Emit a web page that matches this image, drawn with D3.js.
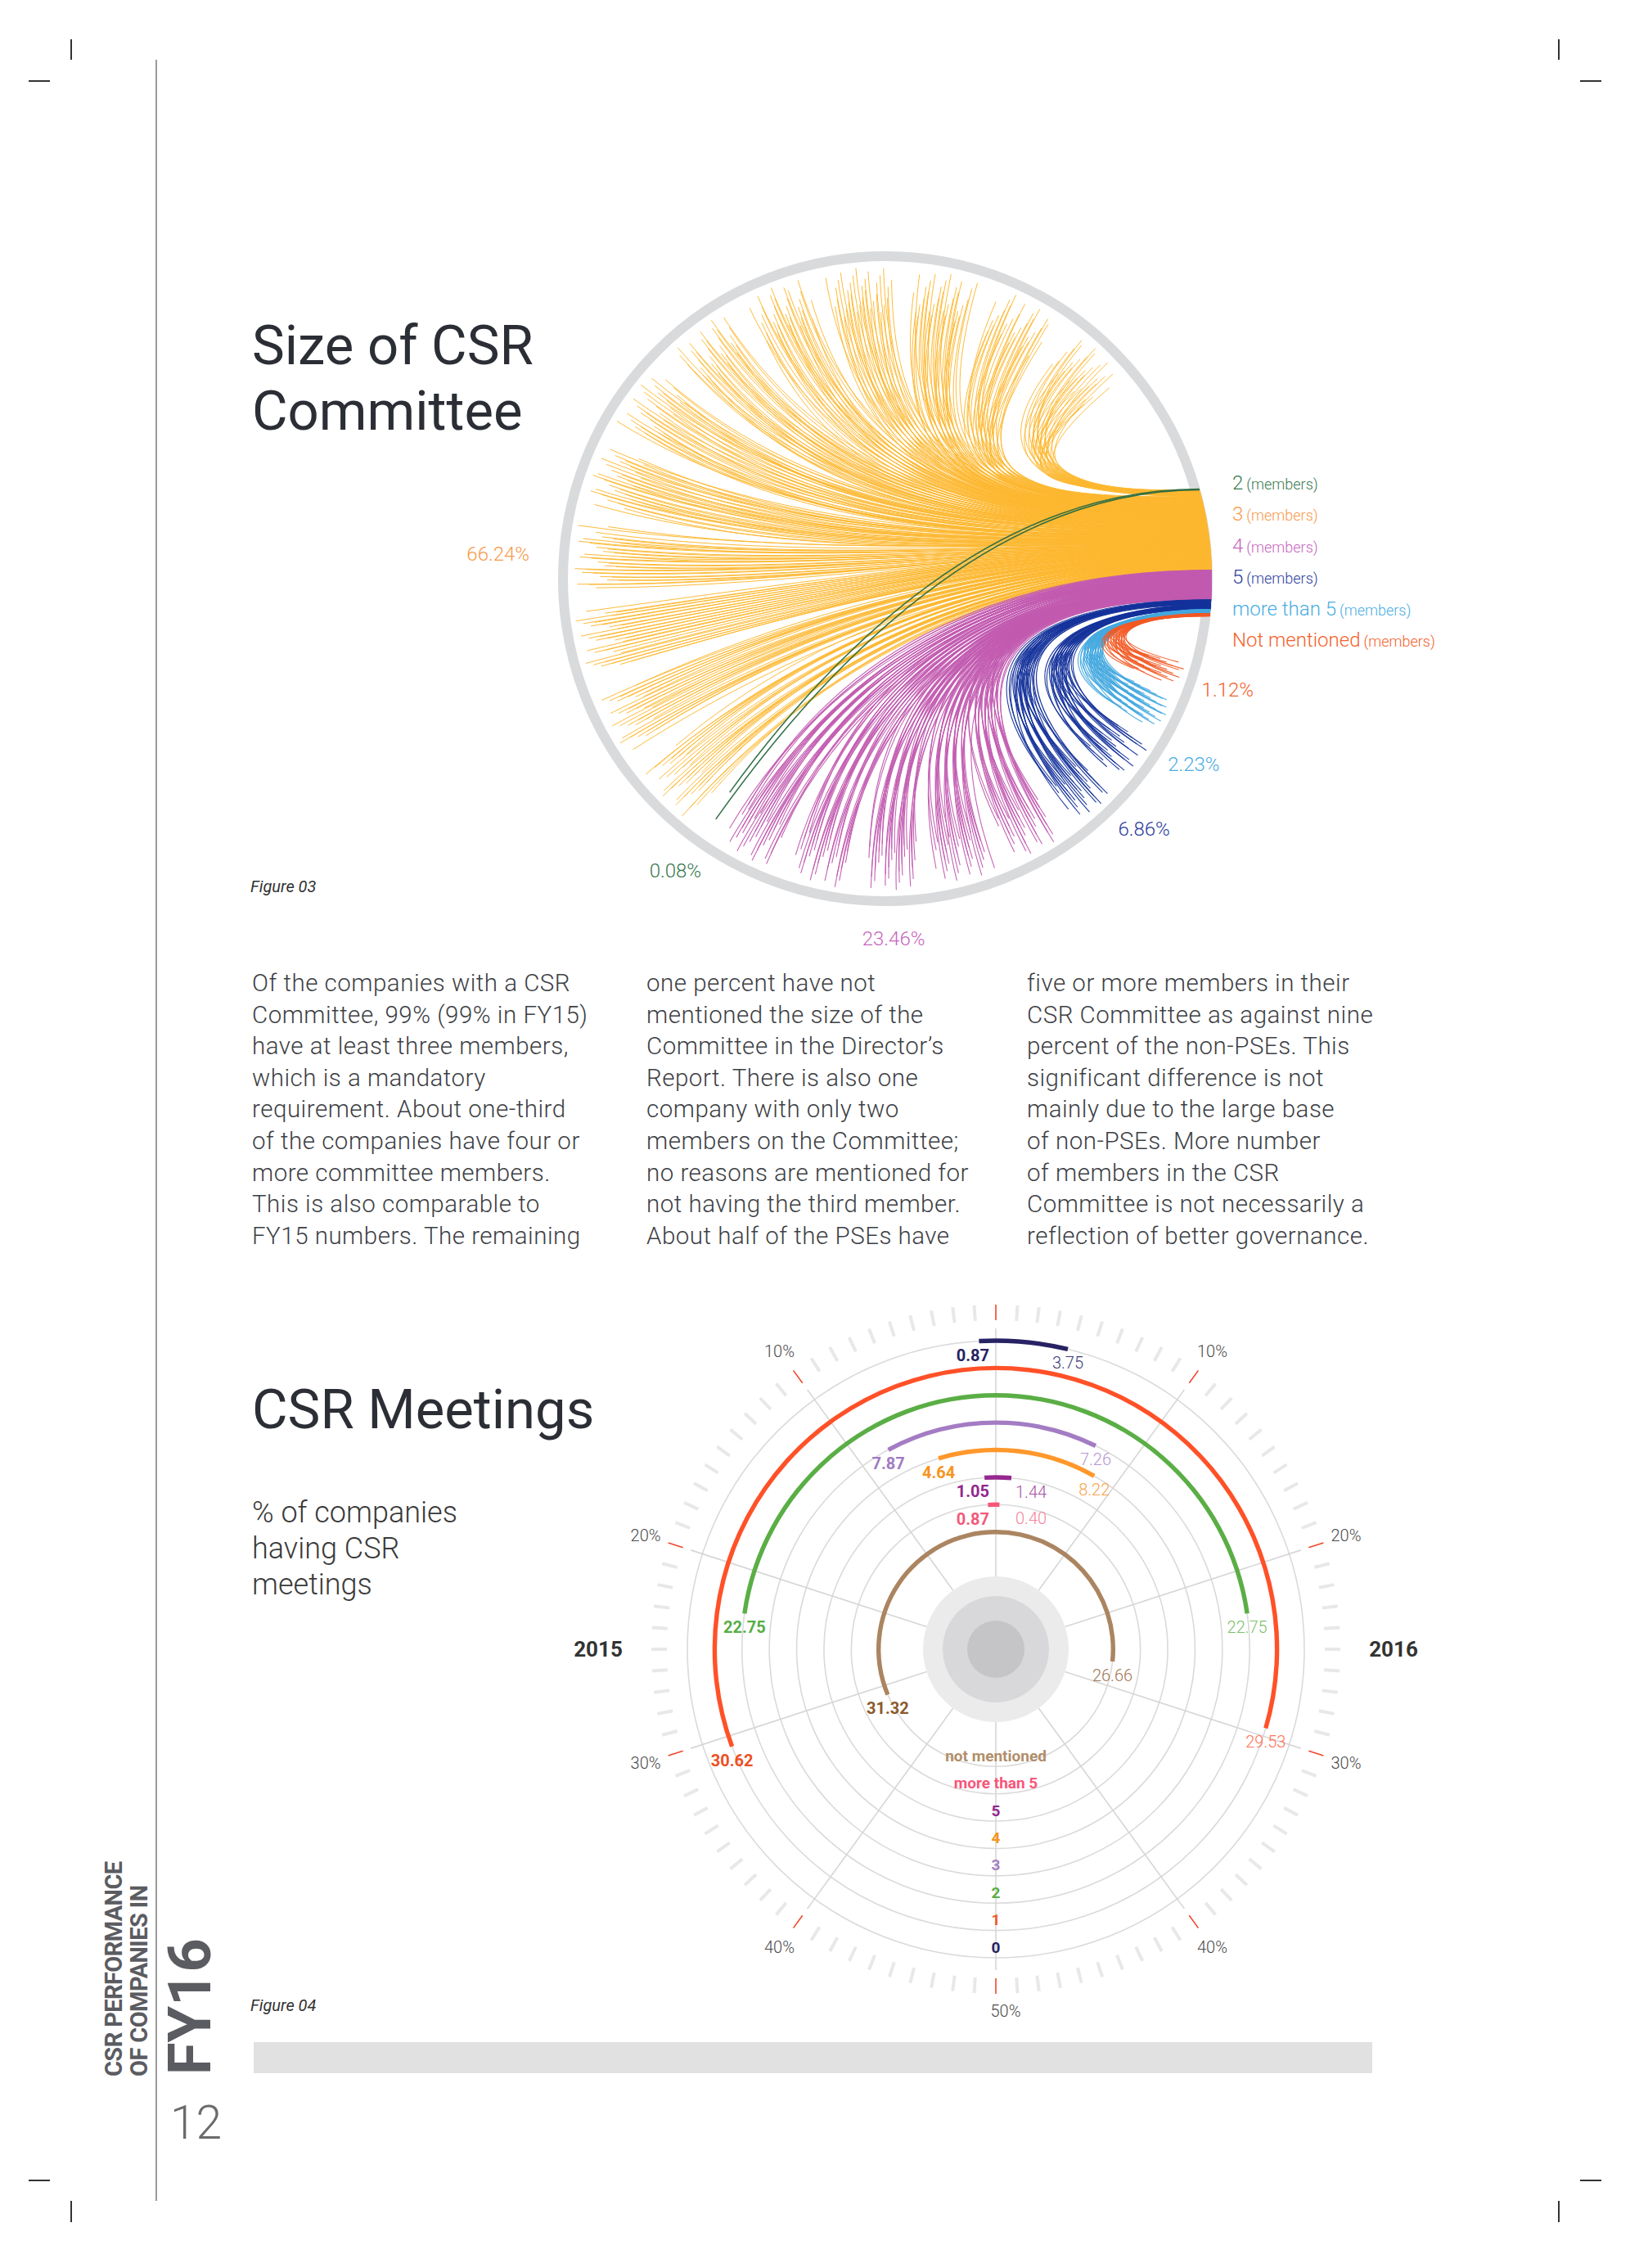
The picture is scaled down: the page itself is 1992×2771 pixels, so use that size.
<!DOCTYPE html>
<html>
<head>
<meta charset="utf-8">
<script src="https://cdn.jsdelivr.net/npm/d3@7"></script>
<style>
  body { margin: 0; background: #fff; }
  svg { display: block; font-family: Roboto, "Noto Sans", sans-serif; }
</style>
</head>
<body>
<svg id="page"></svg>
<script>
// ---- Figure 03 : size of CSR committee
const sizeNames = ["2", "3", "4", "5", "more than 5", "Not mentioned"];
const sizeShares = [0.08, 66.24, 23.46, 6.86, 2.23, 1.12];
const sizeLines = [2, 380, 150, 60, 40, 26];   // strokes per group, roughly counted off the picture
const sizeLineColors = ["#2a6b40", "#fdb72f", "#c25bb0", "#15339b", "#45a9df", "#f25a24"];
const sizeTextColors = ["#3a7a50", "#f7994b", "#c766bd", "#2d3e9e", "#4badE2", "#f4612c"];
// clockwise order in which the groups land round the rim, starting below the band
const landingOrder = [5, 4, 3, 2, 0, 1];

// ---- Figure 04 : CSR meetings
const ringNames = ["0", "1", "2", "3", "4", "5", "more than 5", "not mentioned"];
const meet2015 = [0.87, 30.62, 22.75, 7.87, 4.64, 1.05, 0.87, 31.32];
const meet2016 = [3.75, 29.53, 22.75, 7.26, 8.22, 1.44, 0.40, 26.66];
const ringColors = ["#272263", "#ff5128", "#5aae45", "#a37cc3", "#ff982c", "#96288f", "#f8577a", "#ab8561"];
const ringLabelColors = ["#262262", "#f15a29", "#5aae45", "#a57fc1", "#f7941d", "#93278f", "#f8557a", "#b08e6a"];
const label2015Colors = ["#262262", "#f04e23", "#56ad45", "#a07bc2", "#f7941d", "#92278f", "#f15a7b", "#8b5a2b"];
const label2016Colors = ["#3d3a78", "#ff7254", "#7cc16a", "#b596d2", "#f8a24a", "#a64fa3", "#f5829a", "#a07755"];
const pctTicks = [10, 20, 30, 40, 50];

// ---- page text
const bodyCol1 = ["Of the companies with a CSR", "Committee, 99% (99% in FY15)", "have at least three members,",
  "which is a mandatory", "requirement. About one-third", "of the companies have four or",
  "more committee members.", "This is also comparable to", "FY15 numbers. The remaining"];
const bodyCol2 = ["one percent have not", "mentioned the size of the", "Committee in the Director’s",
  "Report. There is also one", "company with only two", "members on the Committee;",
  "no reasons are mentioned for", "not having the third member.", "About half of the PSEs have"];
const bodyCol3 = ["five or more members in their", "CSR Committee as against nine", "percent of the non-PSEs. This",
  "significant difference is not", "mainly due to the large base", "of non-PSEs. More number",
  "of members in the CSR", "Committee is not necessarily a", "reflection of better governance."];
const meetingsNote = ["% of companies", "having CSR", "meetings"];

(function() {
  const W = 1992, H = 2771;
  const svg = d3.select("#page").attr("width", W).attr("height", H);
  svg.append("rect").attr("width", W).attr("height", H).attr("fill", "#fff");

  // crop marks and margin rule
  const crop = svg.append("g").attr("stroke", "#333").attr("stroke-width", 2);
  [[87, 48, 87, 73], [35, 99, 61, 99], [W - 87, 48, W - 87, 73], [W - 61, 99, W - 35, 99],
   [87, 2689, 87, 2715], [35, 2664, 61, 2664], [W - 87, 2689, W - 87, 2715], [W - 61, 2664, W - 35, 2664]]
    .forEach(m => crop.append("line").attr("x1", m[0]).attr("y1", m[1]).attr("x2", m[2]).attr("y2", m[3]));
  svg.append("line").attr("x1", 191).attr("x2", 191).attr("y1", 73).attr("y2", 2689)
    .attr("stroke", "#9a9a9a").attr("stroke-width", 2);

  // side label
  const side = svg.append("g").attr("font-weight", 700).attr("fill", "#5b5c61");
  side.append("text").attr("transform", "translate(149,2537) rotate(-90)")
    .attr("font-size", 29).attr("letter-spacing", -0.6).text("CSR PERFORMANCE");
  side.append("text").attr("transform", "translate(180,2537) rotate(-90)")
    .attr("font-size", 29).attr("letter-spacing", -0.6).text("OF COMPANIES IN");
  side.append("text").attr("transform", "translate(257,2535) rotate(-90)")
    .attr("font-size", 72).text("FY16");
  svg.append("text").attr("x", 208).attr("y", 2613).attr("font-size", 57).attr("font-weight", 300)
    .attr("fill", "#6b6b6b").text("12");

  // titles
  const title = svg.append("g").attr("fill", "#2b2e35").attr("font-size", 67);
  title.append("text").attr("x", 308).attr("y", 445).text("Size of CSR");
  title.append("text").attr("x", 308).attr("y", 525).text("Committee");
  title.append("text").attr("x", 308).attr("y", 1745).text("CSR Meetings");

  svg.append("g").attr("fill", "#3a3a3a").attr("font-size", 36).attr("font-weight", 300)
    .selectAll("text").data(meetingsNote).join("text")
    .attr("x", 308).attr("y", (d, i) => 1860 + i * 44).text(d => d);

  const fig = svg.append("g").attr("fill", "#333").attr("font-size", 20).attr("font-style", "italic");
  fig.append("text").attr("x", 306).attr("y", 1090).text("Figure 03");
  fig.append("text").attr("x", 306).attr("y", 2457).text("Figure 04");

  // body text, three columns
  const body = svg.append("g").attr("fill", "#3d3f45").attr("font-size", 29.5).attr("font-weight", 300)
    .attr("letter-spacing", 0.5);
  [[bodyCol1, 308], [bodyCol2, 790], [bodyCol3, 1255]].forEach(([lines, x]) => {
    body.append("g").selectAll("text").data(lines).join("text")
      .attr("x", x).attr("y", (d, i) => 1211 + i * 38.6).text(d => d);
  });

  svg.append("rect").attr("x", 310).attr("y", 2495).attr("width", 1367).attr("height", 38).attr("fill", "#e1e1e1");

  // ================= Figure 03 =================
  const f3 = svg.append("g");
  const hub = {x: 1082, y: 707}, R = 394, deg = Math.PI / 180;
  const onRing = (a, r) => [hub.x + r * Math.cos(a), hub.y + r * Math.sin(a)];

  f3.append("circle").attr("cx", hub.x).attr("cy", hub.y).attr("r", R)
    .attr("fill", "none").attr("stroke", "#d9dadc").attr("stroke-width", 12);

  const cats = sizeNames.map((name, i) => ({i, name, share: sizeShares[i], n: sizeLines[i]}));
  // where each group leaves the rim (right side) and where its strands land
  const bandArcs = d3.pie().sort(null).value(d => d.share + 1.2)
    .startAngle(-16 * deg).endAngle(6.6 * deg)(cats);
  const targetArcs = d3.pie().sort(null).value(d => d.share + 1)
    .startAngle(15 * deg).endAngle(322 * deg)(landingOrder.map(i => cats[i]));
  const bandOf = new Map(bandArcs.map(a => [a.data.i, a]));
  const targetOf = new Map(targetArcs.map(a => [a.data.i, a]));

  function strand(c, j) {
    const b = bandOf.get(c.i), t = targetOf.get(c.i);
    const u = (j + 0.5) / c.n;
    const S = onRing(b.startAngle + u * (b.endAngle - b.startAngle), R + 5);
    const nf = Math.max(1, Math.round(c.n / 32));
    const k = Math.min(nf - 1, Math.floor(u * nf));
    const slot = (t.endAngle - t.startAngle) / nf;
    const fa = t.endAngle - (k + 0.5) * slot;
    const within = u * nf - k;
    const h = (j * 0.6180339887) % 1, g = (j * 0.7548776662) % 1;
    const ea = fa + (0.5 - within) * slot * 0.72 + (g - 0.5) * slot * 0.1;
    const E = onRing(ea, R * (0.82 + 0.15 * h));
    const F = onRing(fa, R * 0.9);
    const d = Math.hypot(S[0] - F[0], S[1] - F[1]);
    const a = Math.min(0.55 * d + 60, 0.62 * R);
    const len = Math.hypot(hub.x - F[0], hub.y - F[1]);
    const ux = (hub.x - F[0]) / len, uy = (hub.y - F[1]) / len;
    const p = d3.path();
    p.moveTo(S[0], S[1]);
    p.bezierCurveTo(S[0] - a, S[1],
      F[0] + ux * a + 0.5 * (E[0] - F[0]), F[1] + uy * a + 0.5 * (E[1] - F[1]),
      E[0], E[1]);
    return p.toString();
  }

  [1, 2, 3, 4, 5, 0].forEach(i => {
    const c = cats[i];
    f3.append("g").attr("fill", "none").attr("stroke", sizeLineColors[i])
      .attr("stroke-width", i === 0 ? 1.6 : i === 1 ? 1.0 : 1.1).attr("stroke-opacity", 0.95)
      .selectAll("path").data(d3.range(c.n)).join("path").attr("d", j => strand(c, j));
  });

  // percentage labels round the rim
  const biggest = d3.greatestIndex(sizeShares);
  const labs = cats.filter(c => c.i !== biggest).map(c => {
    const t = targetOf.get(c.i);
    return {c, a: (t.startAngle + t.endAngle) / 2};
  }).sort((p, q) => p.a - q.a);
  labs.forEach((l, k) => { if (k > 0) l.a = Math.max(l.a, labs[k - 1].a + 13 * deg); });
  labs.forEach(l => {
    const [x, y] = onRing(l.a, 440);
    f3.append("text").attr("x", x).attr("y", y).attr("text-anchor", "middle").attr("dominant-baseline", "central")
      .attr("font-size", 24).attr("font-weight", 300).attr("fill", sizeTextColors[l.c.i])
      .text(d3.format(".2f")(l.c.share) + "%");
  });
  const [bx, by] = onRing(184 * deg, 436);
  f3.append("text").attr("x", bx).attr("y", by).attr("text-anchor", "end").attr("dominant-baseline", "central")
    .attr("font-size", 24).attr("font-weight", 300).attr("fill", sizeTextColors[biggest])
    .text(d3.format(".2f")(sizeShares[biggest]) + "%");

  // legend
  const legend = f3.append("g").attr("transform", "translate(1506,598)").attr("font-weight", 300);
  sizeNames.forEach((n, i) => {
    const t = legend.append("text").attr("y", i * 38.4).attr("fill", sizeTextColors[i]);
    t.append("tspan").attr("font-size", 24).text(n);
    t.append("tspan").attr("font-size", 18).attr("dx", 4).text("(members)");
  });

  // ================= Figure 04 =================
  const rc = {x: 1217, y: 2015};
  const f4 = svg.append("g").attr("transform", `translate(${rc.x},${rc.y})`);
  const ang = d3.scaleLinear().domain([0, 100]).range([0, 2 * Math.PI]);
  const rad = d3.scalePoint().domain(ringNames).range([377, 143.3]);
  const xy = (a, r) => [r * Math.sin(a), -r * Math.cos(a)];

  // outer 1% ticks
  f4.append("g").selectAll("line").data(d3.range(100)).join("line")
    .each(function(p) {
      const a = ang(p), p1 = xy(a, 402), p2 = xy(a, 421);
      d3.select(this).attr("x1", p1[0]).attr("y1", p1[1]).attr("x2", p2[0]).attr("y2", p2[1]);
    })
    .attr("stroke", p => p % 10 ? "#e8e8e8" : "#f0462b")
    .attr("stroke-width", p => p % 10 ? 4 : 1.6);

  // grid rings
  f4.append("g").selectAll("circle").data(ringNames).join("circle")
    .attr("r", d => rad(d)).attr("fill", "none").attr("stroke", "#dadada").attr("stroke-width", 1.6);

  // spokes every 10%
  f4.append("g").selectAll("line").data(d3.range(0, 100, 10)).join("line")
    .each(function(p) {
      const a = ang(p), p1 = xy(a, 89), p2 = xy(a, 392);
      d3.select(this).attr("x1", p1[0]).attr("y1", p1[1]).attr("x2", p2[0]).attr("y2", p2[1]);
    })
    .attr("stroke", "#d6d6d6").attr("stroke-width", 1.6);

  // hub discs
  [[89, "#ebebeb"], [65, "#d8d8da"], [35, "#c5c5c7"]].forEach(([r, c]) =>
    f4.append("circle").attr("r", r).attr("fill", c));

  // arcs: 2015 runs anticlockwise, 2016 clockwise
  const arc = d3.arc();
  const arcs = f4.append("g");
  ringNames.forEach((n, i) => {
    const r = rad(n);
    arcs.append("path").attr("fill", ringColors[i])
      .attr("d", arc({innerRadius: r - 2.7, outerRadius: r + 2.7, startAngle: -ang(meet2015[i]), endAngle: 0}));
    arcs.append("path").attr("fill", ringColors[i])
      .attr("d", arc({innerRadius: r - 2.7, outerRadius: r + 2.7, startAngle: 0, endAngle: ang(meet2016[i])}));
  });

  // end-of-arc values
  const vals = f4.append("g").attr("font-size", 20).attr("text-anchor", "middle");
  ringNames.forEach((n, i) => {
    const r = rad(n);
    const e15 = xy(-ang(meet2015[i]), r);
    const t15 = vals.append("text").attr("font-weight", 700).attr("fill", label2015Colors[i])
      .attr("y", e15[1] + 24).text(d3.format(".2f")(meet2015[i]));
    const h15 = t15.node().getComputedTextLength() / 2;
    t15.attr("x", Math.min(e15[0], -8 - h15));

    const e16 = xy(ang(meet2016[i]), r);
    const t16 = vals.append("text").attr("font-weight", 300).attr("fill", label2016Colors[i])
      .attr("y", e16[1] + 24).text(d3.format(".2f")(meet2016[i]));
    const h16 = t16.node().getComputedTextLength() / 2;
    t16.attr("x", Math.max(e16[0], 24 + h16));
  });

  // ring names down the 50% spoke
  f4.append("g").attr("font-size", 19).attr("font-weight", 700).attr("text-anchor", "middle")
    .selectAll("text").data(ringNames).join("text")
    .attr("x", 0).attr("y", d => rad(d) - 13).attr("dominant-baseline", "central")
    .attr("fill", (d, i) => ringLabelColors[i]).text(d => d);

  // percentage scale labels
  const pl = f4.append("g").attr("font-size", 20).attr("font-weight", 300).attr("fill", "#4a4a4a")
    .attr("text-anchor", "middle").attr("dominant-baseline", "central");
  pctTicks.forEach(p => {
    if (p === 50) {
      pl.append("text").attr("x", 12).attr("y", 442).text(p + "%");
      return;
    }
    [-1, 1].forEach(s => {
      const q = xy(s * ang(p), 450);
      pl.append("text").attr("x", q[0]).attr("y", q[1]).text(p + "%");
    });
  });

  // years
  const yr = f4.append("g").attr("font-size", 26).attr("font-weight", 700).attr("fill", "#333")
    .attr("text-anchor", "middle").attr("dominant-baseline", "central");
  yr.append("text").attr("x", -486).attr("y", 0).text("2015");
  yr.append("text").attr("x", 486).attr("y", 0).text("2016");
})();
</script>
</body>
</html>
